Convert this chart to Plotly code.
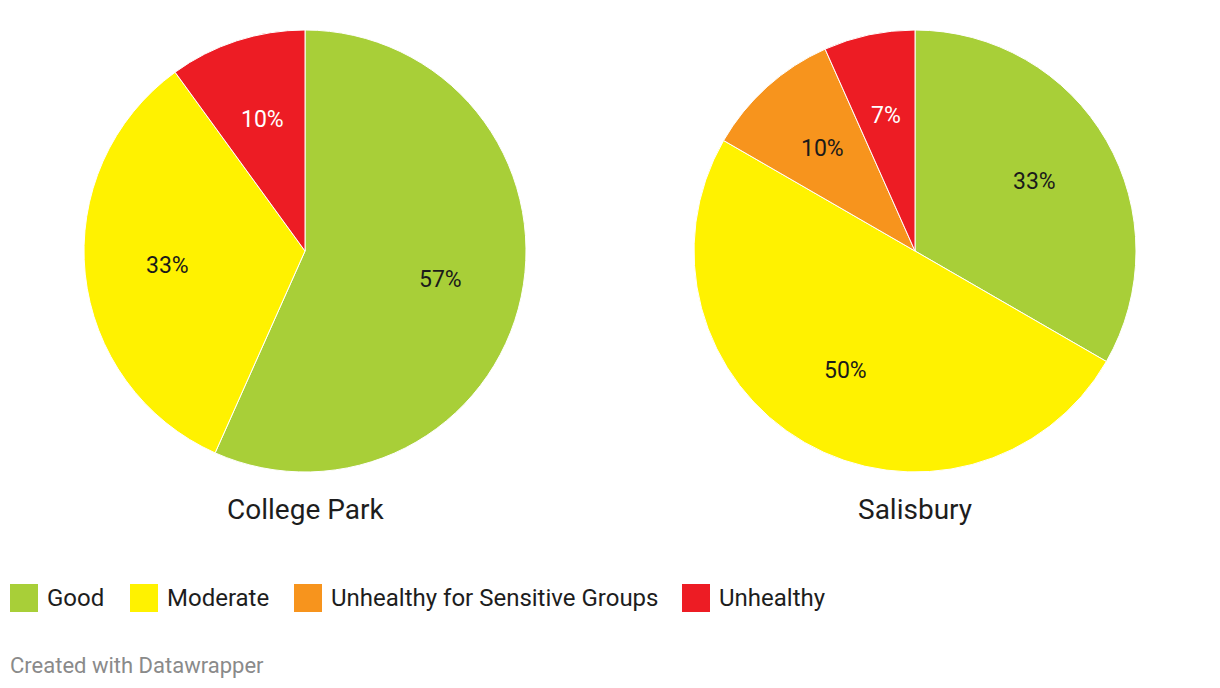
import math
import plotly.graph_objects as go

# ---- data (days per AQI category, out of 30) ----
categories = ["Good", "Moderate", "Unhealthy for Sensitive Groups", "Unhealthy"]
colors = ["#a8cf38", "#fff200", "#f7941d", "#ed1c24"]
text_colors = ["#1a1a1a", "#1a1a1a", "#1a1a1a", "#ffffff"]

college_park_labels = ["Good", "Moderate", "Unhealthy"]
college_park_values = [17, 10, 3]

salisbury_labels = ["Good", "Moderate", "Unhealthy for Sensitive Groups", "Unhealthy"]
salisbury_values = [10, 15, 3, 2]

titles = ["College Park", "Salisbury"]

# ---- layout helpers ----
W, H = 1220, 688
FONT = "Roboto, 'Open Sans', Arial, sans-serif"
PIE_TOP, PIE_BOTTOM = 30, 472
LABEL_RADIUS = 0.625  # fraction of pie radius for inside labels


def px(x):
    return x / W


def py(y):
    return 1 - y / H


cmap = dict(zip(categories, colors))
tmap = dict(zip(categories, text_colors))

fig = go.Figure()
annotations = []

pie_specs = [
    (college_park_labels, college_park_values, (84, 526), titles[0]),
    (salisbury_labels, salisbury_values, (694, 1136), titles[1]),
]
for labels, values, (x0, x1), title in pie_specs:
    fig.add_trace(go.Pie(
        labels=labels,
        values=values,
        sort=False,
        direction="clockwise",
        rotation=0,
        marker=dict(colors=[cmap[l] for l in labels], line=dict(color="white", width=1)),
        textinfo="none",
        hoverinfo="label+percent",
        showlegend=False,
        domain=dict(x=[px(x0), px(x1)], y=[py(PIE_BOTTOM), py(PIE_TOP)]),
    ))
    # percentage labels, derived from the values (clockwise from 12 o'clock)
    cx = (x0 + x1) / 2
    cy = (PIE_TOP + PIE_BOTTOM) / 2
    r = (PIE_BOTTOM - PIE_TOP) / 2
    total = sum(values)
    cum = 0
    for lab, v in zip(labels, values):
        mid = (cum + v / 2) / total * 2 * math.pi
        cum += v
        lx = cx + LABEL_RADIUS * r * math.sin(mid)
        ly = cy - LABEL_RADIUS * r * math.cos(mid)
        annotations.append(dict(
            x=px(lx), y=py(ly), xref="paper", yref="paper",
            text=f"{round(100 * v / total)}%", showarrow=False,
            xanchor="center", yanchor="middle",
            font=dict(family=FONT, size=23, color=tmap[lab]),
        ))
    # pie title
    annotations.append(dict(
        x=px(cx), y=py(509), xref="paper", yref="paper", text=title, showarrow=False,
        xanchor="center", yanchor="middle", font=dict(family=FONT, size=28, color="#1d1d1d"),
    ))

# legend (manual, swatches + labels)
legend_x = [10, 130, 294, 682]
shapes = []
for name, col, lx in zip(categories, colors, legend_x):
    shapes.append(dict(
        type="rect", xref="paper", yref="paper",
        x0=px(lx), x1=px(lx + 28), y0=py(612), y1=py(584),
        fillcolor=col, line=dict(width=0),
    ))
    annotations.append(dict(
        x=px(lx + 35), y=py(598), xref="paper", yref="paper", text=name, showarrow=False,
        xanchor="left", yanchor="middle", font=dict(family=FONT, size=24, color="#1d1d1d"),
    ))

# footer
annotations.append(dict(
    x=px(8), y=py(665), xref="paper", yref="paper", text="Created with Datawrapper",
    showarrow=False, xanchor="left", yanchor="middle",
    font=dict(family=FONT, size=22, color="#8a8a8a"),
))

fig.update_layout(
    width=W, height=H,
    margin=dict(l=0, r=0, t=0, b=0),
    paper_bgcolor="white",
    plot_bgcolor="white",
    annotations=annotations,
    shapes=shapes,
    font=dict(family=FONT),
)

fig.write_html("out.html")
